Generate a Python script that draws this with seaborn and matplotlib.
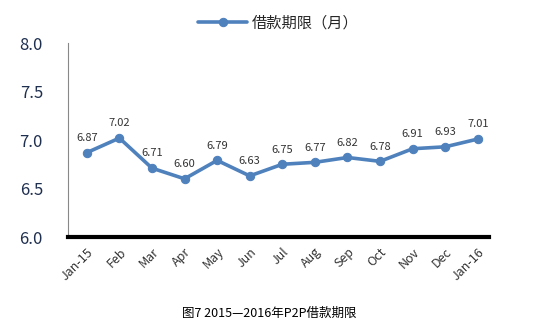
import matplotlib
matplotlib.use("Agg")
import matplotlib.pyplot as plt
import seaborn as sns
import pandas as pd

months = ["Jan-15", "Feb", "Mar", "Apr", "May", "Jun", "Jul", "Aug", "Sep", "Oct", "Nov", "Dec", "Jan-16"]
values = [6.87, 7.02, 6.71, 6.60, 6.79, 6.63, 6.75, 6.77, 6.82, 6.78, 6.91, 6.93, 7.01]
series_name = "借款期限（月）"
caption = "图7 2015—2016年P2P借款期限"

sns.set_style("white")
plt.rcParams['font.family'] = ['Noto Sans CJK SC', 'DejaVu Sans']

df = pd.DataFrame({"month": months, "value": values, "x": range(len(months))})

fig = plt.figure(figsize=(5.39, 3.26), dpi=100)
ax = fig.add_axes([0.126, 0.273, 0.781, 0.595])
color = "#4F81BD"
sns.lineplot(data=df, x="x", y="value", ax=ax, color=color, linewidth=2.6,
             marker="o", markersize=6, markeredgecolor=color, label=series_name)

for xi, v in zip(df["x"], df["value"]):
    ax.annotate(f"{v:.2f}", (xi, v), xytext=(0, 7), textcoords="offset points",
                ha="center", va="bottom", fontsize=8, color="#333333")

ax.set_xlim(-0.58, 12.34)
ax.set_ylim(6.0, 8.0)
ax.set_yticks([6.0, 6.5, 7.0, 7.5, 8.0])
ax.set_yticklabels([f"{t:.1f}" for t in [6.0, 6.5, 7.0, 7.5, 8.0]], fontsize=12, color="#1F2F4F")
ax.set_xticks(range(len(months)))
ax.set_xticklabels(months, rotation=45, ha="right", rotation_mode="anchor", fontsize=9, color="#333333")
ax.set_xlabel("")
ax.set_ylabel("")
ax.tick_params(axis="y", length=4, color="#888888", width=0.8, pad=14)
ax.tick_params(axis="x", length=0, pad=6)

for s in ["top", "right"]:
    ax.spines[s].set_visible(False)
ax.spines["left"].set_color("#888888")
ax.spines["left"].set_linewidth(0.8)
ax.spines["bottom"].set_color("black")
ax.spines["bottom"].set_linewidth(3)

leg = ax.legend(loc="lower center", bbox_to_anchor=(0.5, 0.99), frameon=False,
                fontsize=11, handlelength=3.2, handletextpad=0.3)

fig.text(0.5, 0.04, caption, ha="center", va="center", fontsize=9, color="black")

fig.savefig("out.png", dpi=100)
